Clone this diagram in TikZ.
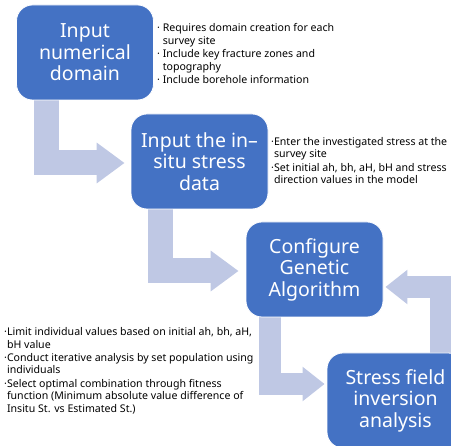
\documentclass[tikz,border=0pt]{standalone}
\usepackage{fontspec}
\setmainfont{Noto Sans}
\usetikzlibrary{arrows.meta,calc,backgrounds}
\definecolor{boxblue}{RGB}{68,114,196}
\definecolor{arrblue}{RGB}{191,200,228}
\newcommand\dotb{{\bfseries ·}}
\begin{document}
\begin{tikzpicture}[x=1pt,y=-1pt,
  box/.style={fill=boxblue, draw=white, line width=0.8pt, rounded corners=16pt,
    minimum width=137pt, minimum height=95pt, text=white, align=center,
    inner sep=0pt, font=\fontsize{19.5}{21.5}\selectfont},
  bul/.style={align=left, inner sep=0pt, text=black,
    font=\fontsize{10.6}{12.4}\selectfont},
  flowA/.style={draw=arrblue, line width=25pt, line join=miter,
    -{Triangle[length=28pt,width=39pt]}},
  flowB/.style={draw=arrblue, line width=22pt, line join=miter,
    -{Triangle[length=22pt,width=33pt]}}]
\useasboundingbox (0,0) rectangle (451,446);
\clip (0,0) rectangle (451,446);
\node[box] (b1) at (85,52.5) {Input\\numerical\\domain};
\node[box] (b2) at (199.5,161.5) {Input the in–\\situ stress\\data};
\node[box] (b3) at (314.5,269.5) {Configure\\Genetic\\Algorithm};
\node[box] (b4) at (395.5,400.5) {Stress field\\inversion\\analysis};
\begin{scope}[on background layer]
\draw[flowA] ([xshift=-39pt]b1.south) |- ([xshift=-6pt,yshift=-1.5pt]b2.west);
\draw[flowA] ([xshift=-39.5pt]b2.south) |- ([xshift=-7pt,yshift=-1.5pt]b3.west);
\draw[flowB] ([xshift=-44.5pt]b3.south) |- ([xshift=-2pt,yshift=16.5pt]b4.west);
\draw[flowB] ([xshift=45.5pt]b4.north) |- ([xshift=2pt,yshift=-17.5pt]b3.east);
\end{scope}
\node[bul, anchor=north west] (l1) at (157,23.5) {%
\dotb\ Requires domain creation for each\\
\hphantom{\dotb\ }survey site\\[1pt]
\dotb\ Include key fracture zones and\\
\hphantom{\dotb\ }topography\\[1pt]
\dotb\ Include borehole information};
\node[bul, anchor=north west] (l2) at (271,137) {%
\dotb Enter the investigated stress at the\\
\hphantom{\dotb}survey site\\[1pt]
\dotb Set initial ah, bh, aH, bH and stress\\
\hphantom{\dotb}direction values in the model};
\node[bul, anchor=north west] (l3) at (4,327.5) {%
\dotb Limit individual values based on initial ah, bh, aH,\\
\hphantom{\dotb}bH value\\[1pt]
\dotb Conduct iterative analysis by set population using\\
\hphantom{\dotb}individuals\\[1pt]
\dotb Select optimal combination through fitness\\
\hphantom{\dotb}function (Minimum absolute value difference of\\
\hphantom{\dotb}Insitu St. vs Estimated St.)};
\end{tikzpicture}
\end{document}
